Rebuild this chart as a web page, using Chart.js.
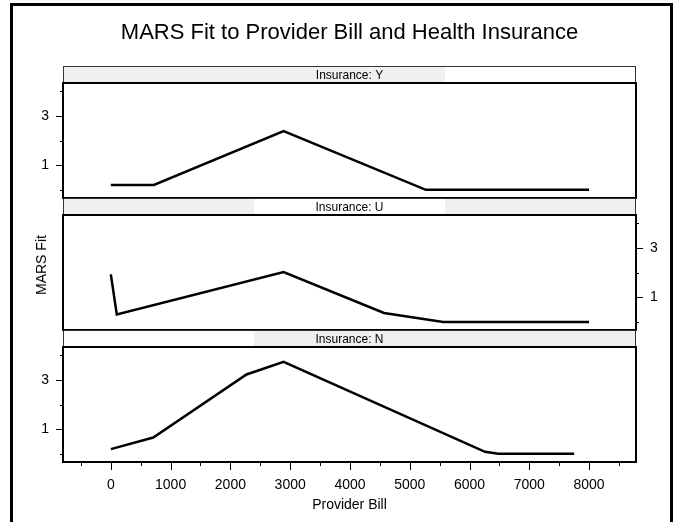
<!DOCTYPE html>
<html>
<head>
<meta charset="utf-8">
<script src="https://cdn.jsdelivr.net/npm/chart.js@4/dist/chart.umd.min.js"></script>
<style>
  html, body { margin: 0; padding: 0; background: #fff; overflow: hidden; }
  #wrap { position: relative; width: 678px; height: 522px; font-family: "Liberation Sans", Arial, Helvetica, sans-serif; }
  #wrap canvas { position: absolute; left: 0; top: 0; }
  #frame { position: absolute; left: 10px; top: 3px; width: 663px; height: 600px; box-sizing: border-box; border: 3px solid #000; }
  #ylab { position: absolute; left: 41px; top: 265px; transform: translate(-50%, -50%) rotate(-90deg); font-size: 14px; color: #000; white-space: nowrap; }
</style>
</head>
<body>
<div id="wrap">
  <div id="frame"></div>
  <canvas id="panelY" width="678" height="522"></canvas>
  <canvas id="panelU" width="678" height="522"></canvas>
  <canvas id="panelN" width="678" height="522"></canvas>
  <div id="ylab">MARS Fit</div>
</div>
<script>
// MARS fit of provider bill, one panel per health insurance level
const billY = [0, 720, 2890, 5270, 8000];
const fitY  = [0.21, 0.21, 2.39, 0.01, 0.01];

const billU = [0, 100, 2890, 4570, 5560, 8000];
const fitU  = [1.93, 0.31, 2.02, 0.37, 0.0, 0.0];

const billN = [0, 710, 2270, 2890, 6260, 6480, 7750];
const fitN  = [0.2, 0.67, 3.22, 3.73, 0.09, 0.01, 0.01];

const xTickValues = [-500, 0, 500, 1000, 1500, 2000, 2500, 3000, 3500, 4000, 4500, 5000, 5500, 6000, 6500, 7000, 7500, 8000, 8500];
const xTickLabels = [0, 1000, 2000, 3000, 4000, 5000, 6000, 7000, 8000];
const yTickValues = [0, 1, 2, 3, 4];
const yTickLabels = [1, 3];

const FONT = '"Liberation Sans", Arial, Helvetica, sans-serif';
Chart.defaults.font.family = FONT;
Chart.defaults.color = '#000';

const STRIP_H = 17;
const Y_AXIS_W = 30;
const X_AXIS_H = 52;

// strip above each panel, tick marks and the panel frame
const trellisPlugin = {
  id: 'trellis',
  afterDraw(chart, args, opts) {
    const { ctx, chartArea: a } = chart;
    const w = a.right - a.left;
    const st = a.top - STRIP_H;
    ctx.save();
    ctx.fillStyle = '#f0f0f0';
    opts.shade.forEach(([f0, f1]) => ctx.fillRect(a.left + f0 * w, st, (f1 - f0) * w, STRIP_H));
    ctx.strokeStyle = '#333';
    ctx.lineWidth = 1;
    ctx.strokeRect(a.left + 0.5, st + 0.5, w - 1, STRIP_H);
    ctx.fillStyle = '#000';
    ctx.font = '12px ' + FONT;
    ctx.textAlign = 'center';
    ctx.textBaseline = 'middle';
    ctx.fillText('Insurance: ' + opts.level, (a.left + a.right) / 2, st + STRIP_H / 2 + 1);

    ctx.strokeStyle = '#000';
    ctx.lineWidth = 1;
    ctx.beginPath();
    const ys = chart.scales.y;
    const leftSide = ys.options.position === 'left';
    yTickValues.forEach(v => {
      const py = Math.round(ys.getPixelForValue(v)) + 0.5;
      const len = yTickLabels.includes(v) ? 7 : 3;
      if (leftSide) { ctx.moveTo(a.left, py); ctx.lineTo(a.left - len, py); }
      else { ctx.moveTo(a.right, py); ctx.lineTo(a.right + len, py); }
    });
    const xs = chart.scales.x;
    if (xs.options.display) {
      xTickValues.forEach(v => {
        const px = Math.round(xs.getPixelForValue(v)) + 0.5;
        const len = xTickLabels.includes(v) ? 8 : 4;
        ctx.moveTo(px, a.bottom);
        ctx.lineTo(px, a.bottom + len);
      });
    }
    ctx.stroke();

    ctx.lineWidth = 2;
    ctx.strokeRect(a.left, a.top, w, a.bottom - a.top);
    ctx.restore();
  }
};

const panels = [
  { id: 'panelY', level: 'Y', bill: billY, fit: fitY, axis: 'left', shade: [[0, 2 / 3]],
    padding: { left: 33, right: 42, top: 0, bottom: 324 }, title: true, xAxis: false },
  { id: 'panelU', level: 'U', bill: billU, fit: fitU, axis: 'right', shade: [[0, 1 / 3], [2 / 3, 1]],
    padding: { left: 63, right: 12, top: 215, bottom: 192 }, title: false, xAxis: false },
  { id: 'panelN', level: 'N', bill: billN, fit: fitN, axis: 'left', shade: [[1 / 3, 1]],
    padding: { left: 33, right: 42, top: 347, bottom: 8 }, title: false, xAxis: true }
];

panels.forEach(p => {
  new Chart(document.getElementById(p.id), {
    type: 'line',
    data: {
      datasets: [{
        data: p.bill.map((x, i) => ({ x, y: p.fit[i] })),
        borderColor: '#000',
        borderWidth: 2.5,
        borderJoinStyle: 'miter',
        borderCapStyle: 'butt',
        pointRadius: 0,
        fill: false,
        tension: 0
      }]
    },
    options: {
      responsive: false,
      animation: false,
      devicePixelRatio: 1,
      layout: { padding: p.padding },
      events: [],
      plugins: {
        legend: { display: false },
        tooltip: { enabled: false },
        title: {
          display: p.title,
          fullSize: false,
          text: 'MARS Fit to Provider Bill and Health Insurance',
          color: '#000',
          font: { size: 22, weight: 'normal' },
          padding: { top: 19.3, bottom: 37.3 }
        },
        trellis: { level: p.level, shade: p.shade }
      },
      scales: {
        x: {
          type: 'linear',
          min: -800,
          max: 8785,
          display: p.xAxis,
          grid: { display: false, drawTicks: false },
          border: { display: false },
          afterBuildTicks: s => { s.ticks = xTickValues.map(value => ({ value })); },
          afterFit: s => { if (s.options.display) s.height = X_AXIS_H; },
          ticks: {
            autoSkip: false,
            maxRotation: 0,
            padding: 15,
            font: { size: 14 },
            callback: v => xTickLabels.includes(v) ? String(v) : ''
          },
          title: { display: true, text: 'Provider Bill', font: { size: 14 }, padding: 0 }
        },
        y: {
          type: 'linear',
          position: p.axis,
          min: -0.32,
          max: 4.33,
          grid: { display: false, drawTicks: false },
          border: { display: false },
          afterBuildTicks: s => { s.ticks = yTickValues.map(value => ({ value })); },
          afterFit: s => { s.width = Y_AXIS_W; },
          ticks: {
            autoSkip: false,
            padding: 14,
            font: { size: 14 },
            callback: v => yTickLabels.includes(v) ? String(v) : ''
          }
        }
      }
    },
    plugins: [trellisPlugin]
  });
});
</script>
</body>
</html>
